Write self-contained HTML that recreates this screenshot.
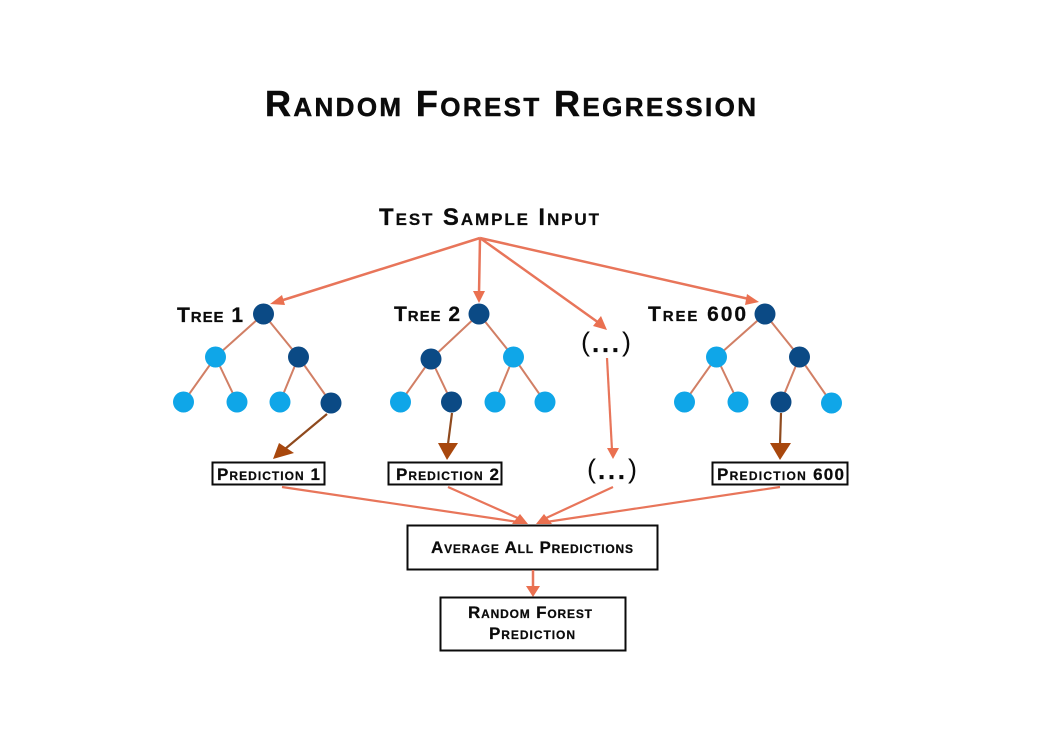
<!DOCTYPE html>
<html>
<head>
<meta charset="utf-8">
<style>
html,body{margin:0;padding:0;background:#fff;width:1050px;height:750px;overflow:hidden}
svg{display:block}
text{font-family:"Liberation Sans",Arial,sans-serif;font-weight:bold;fill:#0b0b0b;stroke:#0b0b0b;stroke-width:.25px}
.t1{stroke-width:.5px}
.p{font-weight:normal;stroke-width:0}
.e{stroke:#d17f65;stroke-width:2;fill:none}
.a{stroke:#e8755a;stroke-width:2.500;fill:none}
.c{stroke:#e8755a;stroke-width:2.200;fill:none}
.b{stroke:#8f4a1e;stroke-width:2.200;fill:none}
.h{fill:#ea7050}
.r{fill:#a8470d}
.d{fill:#0b4a85}
.l{fill:#0fa6e8}
.box{fill:#fff;stroke:#0b0b0b;stroke-width:2}
</style>
</head>
<body>
<svg width="1050" height="750" viewBox="0 0 1050 750" xmlns="http://www.w3.org/2000/svg">
<rect width="1050" height="750" fill="#fff"/>

<text class="t1" x="265" y="116" font-size="36" textLength="491" lengthAdjust="spacing">R<tspan font-size="26">ANDOM</tspan> F<tspan font-size="26">OREST</tspan> R<tspan font-size="26">EGRESSION</tspan></text>
<text x="379" y="225" font-size="24" textLength="220" lengthAdjust="spacing">T<tspan font-size="17">EST</tspan> S<tspan font-size="17">AMPLE</tspan> I<tspan font-size="17">NPUT</tspan></text>

<!-- top arrows -->
<path class="a" d="M480 238L280 301M480 238L479 294M480 238L599 323M480 238L749 299"/>
<polygon class="h" points="270,304 282,295 285,305"/>
<polygon class="h" points="479,303 473,291 485,291"/>
<polygon class="h" points="607,330 593,326 601,316"/>
<polygon class="h" points="759,302 745,305 747,294"/>

<!-- tree 1 -->
<path class="e" d="M263.500 314L215.500 357M263.500 314L298.500 357M215.500 357L183.500 402M215.500 357L237 402M298.500 357L280 402M298.500 357L331 403"/>
<circle class="d" cx="263.500" cy="314" r="10.500"/>
<circle class="l" cx="215.500" cy="357" r="10.500"/>
<circle class="d" cx="298.500" cy="357" r="10.500"/>
<circle class="l" cx="183.500" cy="402" r="10.500"/>
<circle class="l" cx="237" cy="402" r="10.500"/>
<circle class="l" cx="280" cy="402" r="10.500"/>
<circle class="d" cx="331" cy="403" r="10.500"/>

<!-- tree 2 -->
<path class="e" d="M479 314L431 359M479 314L513.500 357M431 359L400.500 402M431 359L451.500 402M513.500 357L495 402M513.500 357L545 402"/>
<circle class="d" cx="479" cy="314" r="10.500"/>
<circle class="d" cx="431" cy="359" r="10.500"/>
<circle class="l" cx="513.500" cy="357" r="10.500"/>
<circle class="l" cx="400.500" cy="402" r="10.500"/>
<circle class="d" cx="451.500" cy="402" r="10.500"/>
<circle class="l" cx="495" cy="402" r="10.500"/>
<circle class="l" cx="545" cy="402" r="10.500"/>

<!-- tree 600 -->
<path class="e" d="M765 314L716.500 357M765 314L799.500 357M716.500 357L684.500 402M716.500 357L738 402M799.500 357L781 402M799.500 357L831.500 403"/>
<circle class="d" cx="765" cy="314" r="10.500"/>
<circle class="l" cx="716.500" cy="357" r="10.500"/>
<circle class="d" cx="799.500" cy="357" r="10.500"/>
<circle class="l" cx="684.500" cy="402" r="10.500"/>
<circle class="l" cx="738" cy="402" r="10.500"/>
<circle class="d" cx="781" cy="402" r="10.500"/>
<circle class="l" cx="831.500" cy="403" r="10.500"/>

<!-- tree labels -->
<text x="177" y="322" font-size="21" textLength="66" lengthAdjust="spacing">T<tspan font-size="15">REE</tspan> 1</text>
<text x="394" y="321" font-size="21" textLength="66" lengthAdjust="spacing">T<tspan font-size="15">REE</tspan> 2</text>
<text x="648" y="321" font-size="21" textLength="98" lengthAdjust="spacing">T<tspan font-size="15">REE</tspan> 600</text>

<!-- ellipses -->
<text class="p" x="581" y="351" font-size="27">(</text>
<text x="592" y="352" font-size="26" textLength="27" lengthAdjust="spacing">...</text>
<text class="p" x="622" y="351" font-size="27">)</text>
<text class="p" x="587" y="478" font-size="27">(</text>
<text x="598" y="479" font-size="26" textLength="27" lengthAdjust="spacing">...</text>
<text class="p" x="628" y="478" font-size="27">)</text>
<path class="c" d="M607 358L612 450"/>
<polygon class="h" points="613,459 607,448 619,448"/>

<!-- brown arrows -->
<path class="b" d="M327 414L285 449M452 413L448 444M781 413L780 444"/>
<polygon class="r" points="273,459 279,443 294,453"/>
<polygon class="r" points="447,460 438,443 458,443"/>
<polygon class="r" points="780,460 770,443 791,443"/>

<!-- prediction boxes -->
<rect class="box" x="212.500" y="462.500" width="112" height="22"/>
<text x="217" y="480" font-size="17" textLength="103" lengthAdjust="spacing">P<tspan font-size="12">REDICTION</tspan> 1</text>
<rect class="box" x="388.500" y="462.500" width="113" height="22"/>
<text x="396" y="480" font-size="17" textLength="103" lengthAdjust="spacing">P<tspan font-size="12">REDICTION</tspan> 2</text>
<rect class="box" x="712.500" y="462.500" width="135" height="22"/>
<text x="717" y="480" font-size="17" textLength="127" lengthAdjust="spacing">P<tspan font-size="12">REDICTION</tspan> 600</text>

<!-- converging arrows -->
<path class="c" d="M282 487L518 522M448 487L520 519M613 487L544 519M780 487L546 522"/>
<polygon class="h" points="528,524 512,524 520,514"/>
<polygon class="h" points="536,524 544,514 552,524"/>

<!-- average -->
<rect class="box" x="407.500" y="525.500" width="250" height="44"/>
<text x="431" y="553" font-size="17" textLength="202" lengthAdjust="spacing">A<tspan font-size="12">VERAGE</tspan> A<tspan font-size="12">LL</tspan> P<tspan font-size="12">REDICTIONS</tspan></text>

<path class="a" d="M533 570L533 588"/>
<polygon class="h" points="533,597 526,586 540,586"/>

<!-- result -->
<rect class="box" x="440.500" y="597.500" width="185" height="53"/>
<text x="468" y="618" font-size="17" textLength="124" lengthAdjust="spacing">R<tspan font-size="12">ANDOM</tspan> F<tspan font-size="12">OREST</tspan></text>
<text x="489" y="639" font-size="17" textLength="86" lengthAdjust="spacing">P<tspan font-size="12">REDICTION</tspan></text>
</svg>
</body>
</html>
